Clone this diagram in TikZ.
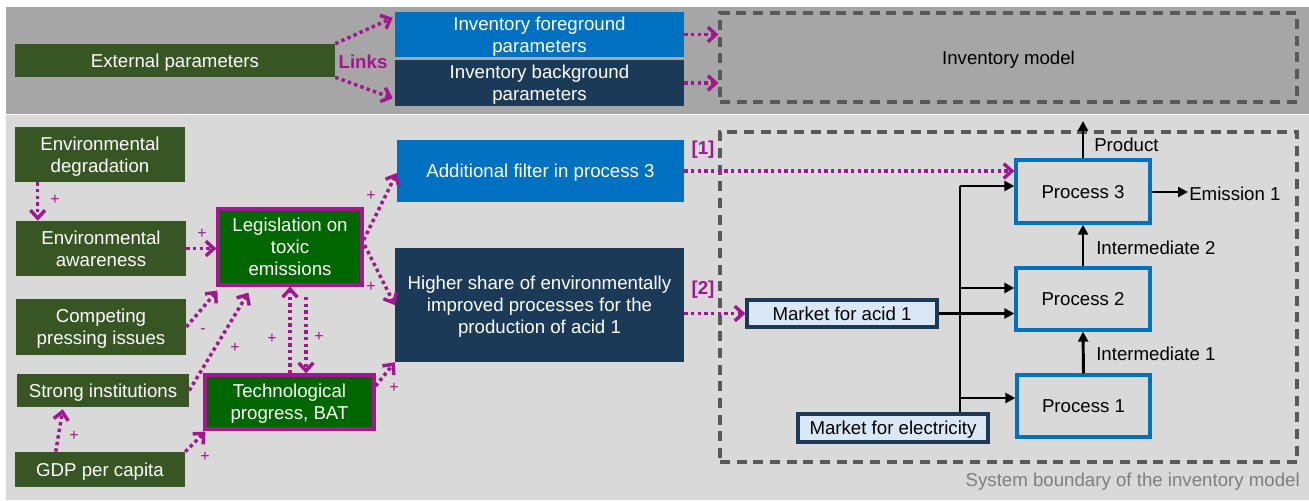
\documentclass[tikz,border=0pt]{standalone}
\usepackage{fontspec}
\setmainfont{Liberation Sans}
\usetikzlibrary{arrows.meta,calc}
\definecolor{topgray}{HTML}{A6A6A6}
\definecolor{botgray}{HTML}{D9D9D9}
\definecolor{dgreen}{HTML}{375623}
\definecolor{lgreen}{HTML}{006600}
\definecolor{mag}{HTML}{A3168E}
\definecolor{blu}{HTML}{0070C0}
\definecolor{navy}{HTML}{1B3A57}
\definecolor{lblue}{HTML}{DAE8F5}
\definecolor{bgray}{HTML}{595959}
\definecolor{capgray}{HTML}{7F7F7F}
\begin{document}
\begin{tikzpicture}[x=0.75pt,y=-0.75pt, font=\fontsize{14}{16.5}\selectfont,
 every node/.style={inner sep=0pt, align=center},
 sz/.style 2 args={minimum width=#1*0.75pt, minimum height=#2*0.75pt, text depth=0pt},
 gbox/.style={fill=dgreen, text=white},
 lbox/.style={fill=lgreen, draw=mag, line width=2.4pt, text=white},
 bbox/.style={fill=blu, text=white},
 nbox/.style={fill=navy, text=white},
 pbox/.style={draw=blu, line width=2.5pt},
 mbox/.style={draw=navy, fill=lblue, line width=2.5pt},
 bound/.style={draw=bgray, line width=2.4pt, dash pattern=on 7.5pt off 5pt},
 link/.style={draw=mag, line width=2.6pt, dash pattern=on 2.6pt off 2.4pt, -{Straight Barb[length=6pt,width=11pt]}},
 flow/.style={draw=black, line width=2.2pt, -{Triangle[length=7.5pt,width=7.5pt]}},
 sign/.style={text=mag, font=\fontsize{12}{14}\selectfont},
 ref/.style={text=mag, font=\bfseries\fontsize{14}{16}\selectfont}
]
\fill[white] (0,0) rectangle (1309,500);
\useasboundingbox (0,0) rectangle (1309,500);
\fill[topgray] (6,7) rectangle (1309,114);
\fill[botgray] (6,115) rectangle (1309,500);

% top band
\node[gbox, sz={320}{33}] (ext) at (175,60.5) {External parameters};
\node[bbox, sz={289}{45}] (fg) at (539.5,34.5) {Inventory foreground\\parameters};
\node[nbox, sz={289}{46}] (bg) at (539.5,83) {Inventory background\\parameters};
\node[bound, sz={577}{89}] (invm) at (1008.5,57.5) {Inventory model};
\node[ref] (links) at (363,62) {Links};
\draw[link] (ext.north east) -- ($(fg.north west)+(-2,6)$);
\draw[link] (ext.south east) -- ($(bg.south west)+(-2,-8)$);
\draw[link] (fg.east) -- (fg.east -| invm.west);
\draw[link] (bg.east) -- (bg.east -| invm.west);

% lower left
\node[gbox, sz={170}{55}] (envdeg) at (100,154.5) {Environmental\\degradation};
\node[gbox, sz={170}{55}] (envaw) at (101,248.5) {Environmental\\awareness};
\node[gbox, sz={170}{56}] (comp) at (101,327) {Competing\\pressing issues};
\node[gbox, sz={172}{33}] (strong) at (103,390.5) {Strong institutions};
\node[gbox, sz={170}{35}] (gdp) at (100,469.5) {GDP per capita};
\node[lbox, sz={144}{76}] (legis) at (290,247) {Legislation on\\toxic\\emissions};
\node[lbox, sz={169}{54}] (tech) at (289.5,402) {Technological\\progress, BAT};
\node[bbox, sz={287}{62}] (filter) at (540.5,171) {Additional filter in process 3};
\node[nbox, sz={289}{114}] (higher) at (539.5,305) {Higher share of environmentally\\improved processes for the\\production of acid 1};

\draw[link] ($(envdeg.south west)+(23,0)$) -- ($(envaw.north west)+(22,0)$);
\node[sign] (s1) at (55,200) {+};
\draw[link] (envaw.east) -- (envaw.east -| legis.west);
\node[sign] (s2) at (202,234) {+};
\draw[link] (comp.east) -- ($(legis.south west)+(1,4)$);
\node[sign] (s3) at (203,331) {-};
\draw[link] (strong.east) -- ($(legis.south west)+(32,6)$);
\node[sign] (s4) at (235,348) {+};
\draw[link] (tech.north -| legis.south) -- (legis.south);
\node[sign] (s5) at (272,339) {+};
\coordinate (ld) at (306,297);
\draw[link] (ld) -- (ld |- tech.north);
\node[sign] (s6) at (319,337) {+};
\draw[link] ($(gdp.north west)+(41,0)$) -- ($(strong.south west)+(46,2)$);
\node[sign] (s7) at (74,436) {+};
\draw[link] (gdp.north east) -- ($(tech.south west)+(2,1)$);
\node[sign] (s8) at (205,457) {+};
\draw[link] ($(legis.east)+(0,-7)$) -- ($(filter.west)+(0,2)$);
\node[sign] (s9) at (371,196) {+};
\draw[link] ($(legis.east)+(1,-2)$) -- (higher.west);
\node[sign] (s10) at (371,287) {+};
\draw[link] ($(tech.east)+(0,-16)$) -- (higher.south west);
\node[sign] (s11) at (394,388) {+};

% system boundary
\node[bound, sz={577}{330}] (sysb) at (1008.5,297) {};
\node[text=capgray, anchor=east] (cap) at (1300,482) {System boundary of the inventory model};
\node[pbox, sz={134}{63}] (p3) at (1083,191.5) {Process 3};
\node[pbox, sz={134}{62}] (p2) at (1083,299) {Process 2};
\node[pbox, sz={133}{62}] (p1) at (1083.5,406) {Process 1};
\node[mbox, sz={190}{27}] (macid) at (842,313.5) {Market for acid 1};
\node[mbox, sz={190}{28}] (melec) at (893,428) {Market for electricity};

\draw[link] (filter.east) -- (filter.east -| p3.west);
\node[ref] (r1) at (703,150) {[1]};
\draw[link] (higher.east |- macid.west) -- (macid.west);
\node[ref] (r2) at (703,290) {[2]};

\coordinate (b3) at (960,186);
\coordinate (b2) at (960,288);
\coordinate (b1) at (960,398);
\draw[black, line width=2.2pt] (b3) -- (b3 |- melec.north);
\draw[flow] (b3) -- (b3 -| p3.west);
\draw[flow] (b2) -- (b2 -| p2.west);
\draw[flow] (b1) -- (b1 -| p1.west);
\draw[flow] (macid.east) -- (macid.east -| p2.west);
\draw[flow] (p1.north) -- (p2.south);
\draw[flow] (p2.south |- p2.north) -- (p3.south);
\coordinate (prod) at (1083,121);
\draw[flow] (p3.north) -- (prod);
\coordinate (em) at (1188,192);
\draw[flow] (p3.east |- em) -- (em);
\node[anchor=west] (emt) at (1189,194) {Emission 1};
\node[anchor=west] (prodt) at (1094,145) {Product};
\node[anchor=west] (i2) at (1096,248) {Intermediate 2};
\node[anchor=west] (i1) at (1096,354) {Intermediate 1};
\end{tikzpicture}
\end{document}
